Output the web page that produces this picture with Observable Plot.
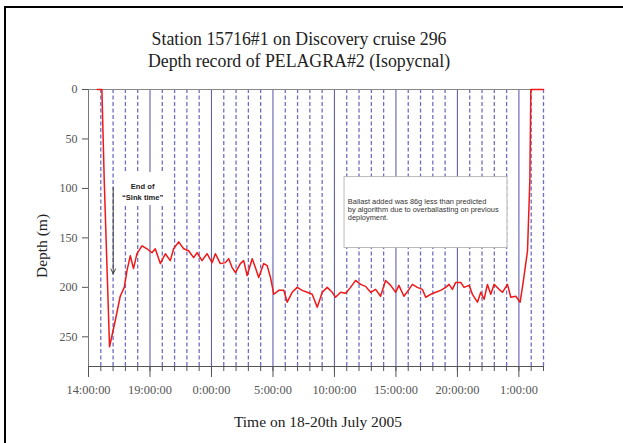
<!DOCTYPE html>
<html><head><meta charset="utf-8">
<script src="https://cdn.jsdelivr.net/npm/d3@7"></script>
<script src="https://cdn.jsdelivr.net/npm/@observablehq/plot@0.6"></script>
<style>
html,body{margin:0;padding:0;background:#fff;}
#wrap{position:relative;width:623px;height:443px;overflow:hidden;}
#border{position:absolute;left:3.5px;top:6px;width:640px;height:460px;border-left:2px solid #000;border-top:2px solid #000;pointer-events:none;}
</style></head><body><div id="wrap"><div id="chart"></div><div id="border"></div></div>
<script>
// hours elapsed since 14:00 on 18 July 2005
const hours = [0.71,1.09,1.28,1.71,2.17,2.58,2.91,3.13,3.40,3.66,
3.94,4.35,4.76,5.16,5.43,5.84,6.25,6.65,6.92,7.33,
7.74,8.14,8.55,8.83,9.23,9.64,10.05,10.32,10.72,11.13,
11.40,11.68,11.95,12.35,12.62,12.90,13.31,13.57,13.84,14.25,
14.53,14.80,15.07,15.47,15.88,16.16,16.56,16.97,17.38,17.78,
18.19,18.60,19.01,19.41,19.82,20.09,20.50,20.91,21.31,21.72,
22.13,22.53,22.94,23.35,23.75,24.16,24.57,24.98,25.24,25.65,
26.06,26.34,26.74,27.15,27.42,27.83,28.23,28.64,29.05,29.32,
29.59,29.86,30.27,30.54,30.95,31.22,31.63,31.90,32.17,32.44,
32.71,32.98,33.39,33.66,34.07,34.34,34.75,35.10,35.37,35.70,
35.89,35.97,37.0];
// depth (m)
const depths = [0,0,92,260,234,209,200,183,168,181,
166,158,161,165,161,176,166,173,161,154,
161,163,170,165,173,166,175,166,176,175,
171,180,185,176,173,188,171,180,190,176,
178,190,207,203,203,215,205,200,203,205,
207,220,205,200,205,210,205,206,200,193,
197,199,205,202,209,193,198,205,198,209,
202,197,200,202,210,207,205,203,200,197,
202,195,195,200,198,207,215,205,212,197,
207,197,202,205,197,210,209,215,193,163,
92,0,0];
const majorTicks = [0,5,10,15,20,25,30,35];
const tickLabels = ["14:00:00","19:00:00","0:00:00","5:00:00","10:00:00","15:00:00","20:00:00","1:00:00"];
const depthTicks = [0,50,100,150,200,250];
const hourTicks = d3.range(0,38);
const solidHours = [5,10,15,20,25,30,35];
const dashedHours = hourTicks.filter(h => h > 0 && h % 5 !== 0);

const titleLines = ["Station 15716#1 on Discovery cruise 296","Depth record of PELAGRA#2 (Isopycnal)"];
const xTitle = "Time on 18-20th July 2005";
const yTitle = "Depth (m)";
const noteText = "Ballast added was 86g less than predicted\nby algorithm due to overballasting on previous\ndeployment.";
const sinkText = "End of\n\u201CSink time\u201D";

const data = hours.map((h,i)=>({h, d: depths[i]}));

const serif = "'Liberation Serif','Times New Roman',serif";
const sans = "'Liberation Sans',Arial,sans-serif";

const chart = Plot.plot({
  width: 623, height: 443,
  marginLeft: 88, marginRight: 80, marginTop: 89, marginBottom: 77,
  style: {fontFamily: serif, fontSize: "12px", color: "#444", background: "#fff"},
  x: {domain: [0,37]},
  y: {domain: [0,280], reverse: true},
  marks: [
    Plot.ruleX(dashedHours, {stroke: "#6f6fc2", strokeWidth: 1.3, strokeDasharray: "4,2.5"}),
    Plot.ruleX(solidHours, {stroke: "#6262b4", strokeWidth: 1.1}),
    Plot.ruleY([0], {stroke: "#888", strokeWidth: 1}),
    Plot.rect([{x1:20.82,x2:34.07,y1:88.6,y2:160.2}], {x1:"x1",x2:"x2",y1:"y1",y2:"y2", fill:"#fff", stroke:"#aaa", strokeWidth:0.8}),
    Plot.text([noteText], {x: 21.09, y: 121.1, text: d=>d, textAnchor: "start", lineAnchor: "middle", lineHeight: 1.1, fontFamily: sans, fontSize: 7.4, fill: "#333"}),
    Plot.rect([{x1:2.66,x2:6.41,y1:83.9,y2:117.3}], {x1:"x1",x2:"x2",y1:"y1",y2:"y2", fill:"#fff"}),
    Plot.text([sinkText], {x: 4.4, y: 102.6, text: d=>d, lineAnchor: "middle", lineHeight: 1.47, fontFamily: sans, fontSize: 7.6, fontWeight: 600, fill: "#222"}),
    Plot.arrow([{x:2.01,y1:99,y2:186.3}], {x1:"x",x2:"x",y1:"y1",y2:"y2", stroke:"#444", strokeWidth:1, headLength:8, headAngle:50}),
    Plot.line(data, {x: "h", y: "d", stroke: "#f01818", strokeWidth: 1.5}),
    Plot.ruleY([280], {stroke: "#555"}),
    Plot.ruleX([0], {stroke: "#777"}),
    Plot.axisX(hourTicks, {tickSize: 5, tickFormat: () => "", label: null, stroke: "#555"}),
    Plot.axisX(majorTicks, {tickSize: 11, tickPadding: 8, tickFormat: d => tickLabels[majorTicks.indexOf(d)], label: null, stroke: "#555", fontSize: 12.4, fill: "#555"}),
    Plot.axisY(depthTicks, {tickSize: 6, tickPadding: 5, label: null, stroke: "#555", fontSize: 12, fill: "#555"}),
    Plot.text([titleLines[0]], {frameAnchor: "top", lineAnchor: "middle", dx: -17, dy: -50, text: d=>d, fontSize: 17.8, fill: "#222"}),
    Plot.text([titleLines[1]], {frameAnchor: "top", lineAnchor: "middle", dx: -17, dy: -28, text: d=>d, fontSize: 17.8, fill: "#222"}),
    Plot.text([xTitle], {frameAnchor: "bottom", lineAnchor: "middle", dx: 2, dy: 56, text: d=>d, fontSize: 15.5, fill: "#222"}),
    Plot.text([yTitle], {frameAnchor: "left", textAnchor: "middle", lineAnchor: "middle", dx: -46, dy: 18, rotate: -90, text: d=>d, fontSize: 15.5, fill: "#222"})
  ]
});
document.getElementById("chart").appendChild(chart);
</script>
</body></html>
